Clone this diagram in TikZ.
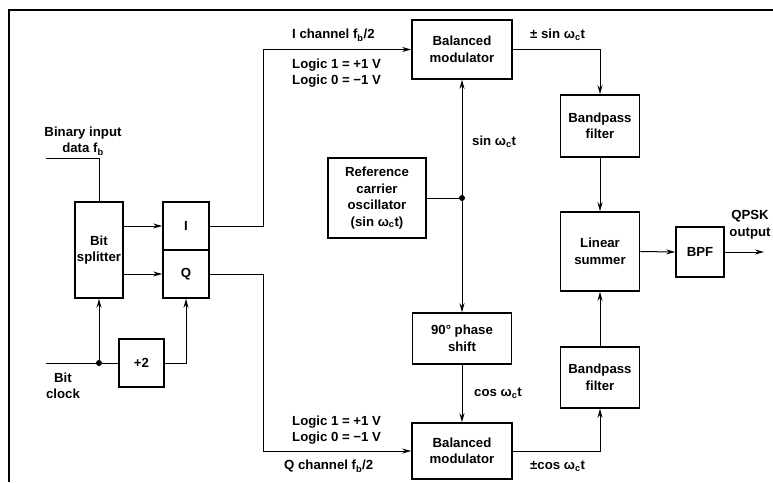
\documentclass[tikz,border=0pt]{standalone}
\usepackage{fontspec}
\setmainfont{Liberation Sans}
\usetikzlibrary{arrows.meta,positioning,calc}

\begin{document}
\begin{tikzpicture}[
  x=1pt, y=-1pt,
  font=\fontsize{13.2}{16.5}\selectfont\bfseries,
  box/.style={draw, line width=1.6pt, align=center, inner sep=2pt},
  arr/.style={-{Stealth[length=9pt,width=5pt]}, line width=1pt},
  wire/.style={line width=1pt},
  lbl/.style={anchor=west, align=left, inner sep=0pt},
  junction/.style={circle, fill, inner sep=0pt, minimum size=6pt},
]
\useasboundingbox (0,0) rectangle (773,482);

% ---------- frame ----------
\draw[line width=2pt] (9,482) -- (9,10) -- (773,10);

% ---------- input side ----------
\node[box, minimum width=46pt, minimum height=96pt] (splitter) at (99,250) {Bit\\splitter};
\node[box, minimum width=46pt, minimum height=48pt] (ich) at (186,226) {I};
\node[box, minimum width=46pt, minimum height=48pt] (qch) at (186,274) {Q};
\node[box, minimum width=45pt, minimum height=48pt] (divtwo) at (141.5,363) {+2};
\coordinate (datain) at (46,158);
\coordinate (clkin) at (46,363);
\node[junction] (clkdot) at (splitter.south |- clkin) {};

% ---------- carrier path ----------
\node[box, minimum width=100pt, minimum height=59pt] (modI) at (462,49.5) {Balanced\\modulator};
\node[box, minimum width=98pt, minimum height=80pt] (osc) at (377,198)
  {Reference\\carrier\\oscillator\\(sin ω\textsubscript{c}t)};
\node[junction] (oscdot) at (modI.south |- osc.east) {};
\node[box, minimum width=99pt, minimum height=51pt] (shift) at (462,338.5) {90° phase\\shift};
\node[box, minimum width=100pt, minimum height=56pt] (modQ) at (462,451) {Balanced\\modulator};

% ---------- output side ----------
\node[box, minimum width=79pt, minimum height=62pt] (bpfI) at (600,126) {Bandpass\\filter};
\node[box, minimum width=79pt, minimum height=79pt] (summer) at (600,251.5) {Linear\\summer};
\node[box, minimum width=79pt, minimum height=61pt] (bpfQ) at (600,377.5) {Bandpass\\filter};
\node[box, minimum width=48pt, minimum height=50pt] (bpf) at (700,252) {BPF};
\coordinate (qpskout) at (764,252);

% ---------- arrows ----------
\draw[wire] (datain) -| (splitter.north);
\draw[wire] (clkin) -- (divtwo.west);
\draw[arr] (clkdot) -- (splitter.south);
\draw[arr] (divtwo.east) -| (qch.south);
\draw[arr] (splitter.east |- ich) -- (ich.west);
\draw[arr] (splitter.east |- qch) -- (qch.west);
\draw[arr] (ich.east) -- ++(54,0) |- (modI.west);
\draw[arr] (qch.east) -- ++(54,0) |- (modQ.west);
\draw[wire] (osc.east) -- (oscdot);
\draw[arr] (oscdot) -- (modI.south);
\draw[arr] (oscdot) -- (shift.north);
\draw[arr] (shift.south) -- (modQ.north);
\draw[arr] (modI.east) -| (bpfI.north);
\draw[arr] (bpfI.south) -- (summer.north);
\draw[arr] (modQ.east) -| (bpfQ.south);
\draw[arr] (bpfQ.north) -- (summer.south);
\draw[arr] (summer.east) -- (bpf.west);
\draw[arr] (bpf.east) -- (qpskout);

% ---------- labels ----------
\node[align=center, inner sep=0pt] (datalbl) at (83,141) {Binary input\\data f\textsubscript{b}};
\node[align=center, inner sep=0pt] (clklbl) at (63,386) {Bit\\clock};
\node[lbl] (ilbl) at (292,35) {I channel f\textsubscript{b}/2};
\node[lbl] (ilogic) at (292,73) {Logic 1 = +1 V\\Logic 0 = −1 V};
\node[lbl] (qlogic) at (292,430) {Logic 1 = +1 V\\Logic 0 = −1 V};
\node[lbl] (qlbl) at (284,466) {Q channel f\textsubscript{b}/2};
\node[lbl] (sinpm) at (530,35) {± sin ω\textsubscript{c}t};
\node[lbl] (sinlbl) at (472,142) {sin ω\textsubscript{c}t};
\node[lbl] (coslbl) at (474,393) {cos ω\textsubscript{c}t};
\node[lbl] (cospm) at (530,466) {±cos ω\textsubscript{c}t};
\node[align=center, inner sep=0pt] (outlbl) at (750,225) {QPSK\\output};

\end{tikzpicture}
\end{document}
